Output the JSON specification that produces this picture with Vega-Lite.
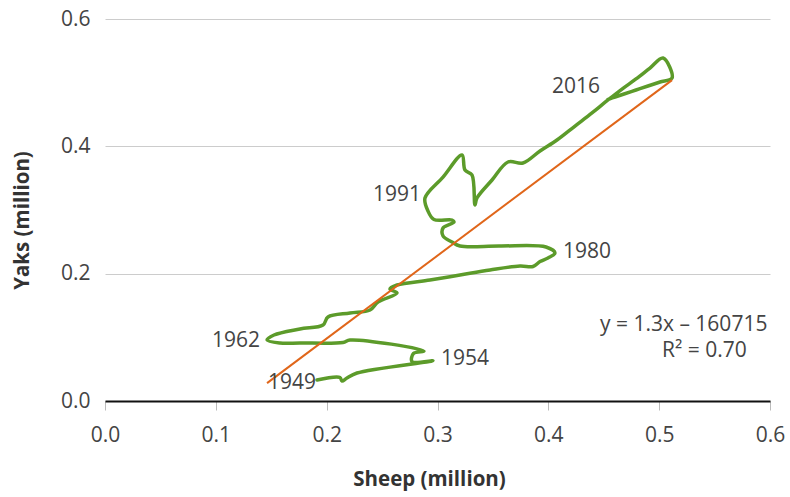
{
  "$schema": "https://vega.github.io/schema/vega-lite/v6.json",
  "width": 665,
  "height": 382,
  "autosize": {"type": "none"},
  "padding": {"left": 105, "top": 19, "right": 20, "bottom": 96},
  "background": "white",
  "config": {
    "view": {"stroke": null},
    "font": "Open Sans",
    "axis": {
      "labelFont": "Open Sans",
      "titleFont": "Open Sans",
      "labelColor": "#444444",
      "titleColor": "#333333",
      "labelFontSize": 21,
      "titleFontSize": 20.5,
      "titleFontWeight": "bold",
      "labelFlush": false
    }
  },
  "datasets": {
    "series": [
      {"year": 1949, "sheep": 0.1913, "yaks": 0.0330},
      {"year": 1950, "sheep": 0.2120, "yaks": 0.0369},
      {"year": 1951, "sheep": 0.2138, "yaks": 0.0314},
      {"year": 1952, "sheep": 0.2183, "yaks": 0.0361},
      {"year": 1953, "sheep": 0.2274, "yaks": 0.0440},
      {"year": 1954, "sheep": 0.2959, "yaks": 0.0633},
      {"year": 1955, "sheep": 0.2770, "yaks": 0.0620},
      {"year": 1956, "sheep": 0.2783, "yaks": 0.0746},
      {"year": 1957, "sheep": 0.2878, "yaks": 0.0785},
      {"year": 1958, "sheep": 0.2211, "yaks": 0.0958},
      {"year": 1959, "sheep": 0.2147, "yaks": 0.0919},
      {"year": 1960, "sheep": 0.1759, "yaks": 0.0911},
      {"year": 1961, "sheep": 0.1579, "yaks": 0.0911},
      {"year": 1962, "sheep": 0.1462, "yaks": 0.0958},
      {"year": 1963, "sheep": 0.1525, "yaks": 0.1037},
      {"year": 1964, "sheep": 0.1759, "yaks": 0.1131},
      {"year": 1965, "sheep": 0.1967, "yaks": 0.1194},
      {"year": 1966, "sheep": 0.2012, "yaks": 0.1319},
      {"year": 1967, "sheep": 0.2211, "yaks": 0.1382},
      {"year": 1968, "sheep": 0.2391, "yaks": 0.1429},
      {"year": 1969, "sheep": 0.2463, "yaks": 0.1555},
      {"year": 1970, "sheep": 0.2635, "yaks": 0.1696},
      {"year": 1971, "sheep": 0.2571, "yaks": 0.1759},
      {"year": 1972, "sheep": 0.2635, "yaks": 0.1822},
      {"year": 1973, "sheep": 0.2932, "yaks": 0.1900},
      {"year": 1974, "sheep": 0.3203, "yaks": 0.1979},
      {"year": 1975, "sheep": 0.3474, "yaks": 0.2058},
      {"year": 1976, "sheep": 0.3744, "yaks": 0.2120},
      {"year": 1977, "sheep": 0.3862, "yaks": 0.2113},
      {"year": 1978, "sheep": 0.3925, "yaks": 0.2191},
      {"year": 1979, "sheep": 0.3997, "yaks": 0.2246},
      {"year": 1980, "sheep": 0.4060, "yaks": 0.2325},
      {"year": 1981, "sheep": 0.3979, "yaks": 0.2419},
      {"year": 1982, "sheep": 0.3564, "yaks": 0.2435},
      {"year": 1983, "sheep": 0.3203, "yaks": 0.2435},
      {"year": 1984, "sheep": 0.3131, "yaks": 0.2497},
      {"year": 1985, "sheep": 0.3050, "yaks": 0.2592},
      {"year": 1986, "sheep": 0.3050, "yaks": 0.2717},
      {"year": 1987, "sheep": 0.3149, "yaks": 0.2811},
      {"year": 1988, "sheep": 0.3131, "yaks": 0.2843},
      {"year": 1989, "sheep": 0.2968, "yaks": 0.2851},
      {"year": 1990, "sheep": 0.2914, "yaks": 0.2984},
      {"year": 1991, "sheep": 0.2887, "yaks": 0.3188},
      {"year": 1992, "sheep": 0.3050, "yaks": 0.3518},
      {"year": 1993, "sheep": 0.3221, "yaks": 0.3864},
      {"year": 1994, "sheep": 0.3248, "yaks": 0.3628},
      {"year": 1995, "sheep": 0.3311, "yaks": 0.3550},
      {"year": 1996, "sheep": 0.3338, "yaks": 0.3079},
      {"year": 1997, "sheep": 0.3356, "yaks": 0.3188},
      {"year": 1998, "sheep": 0.3492, "yaks": 0.3471},
      {"year": 1999, "sheep": 0.3636, "yaks": 0.3754},
      {"year": 2000, "sheep": 0.3771, "yaks": 0.3738},
      {"year": 2001, "sheep": 0.3925, "yaks": 0.3927},
      {"year": 2002, "sheep": 0.4078, "yaks": 0.4099},
      {"year": 2003, "sheep": 0.4241, "yaks": 0.4319},
      {"year": 2004, "sheep": 0.4394, "yaks": 0.4524},
      {"year": 2005, "sheep": 0.4538, "yaks": 0.4728},
      {"year": 2006, "sheep": 0.4665, "yaks": 0.4900},
      {"year": 2007, "sheep": 0.4791, "yaks": 0.5058},
      {"year": 2008, "sheep": 0.4917, "yaks": 0.5230},
      {"year": 2009, "sheep": 0.5035, "yaks": 0.5387},
      {"year": 2010, "sheep": 0.5116, "yaks": 0.5073},
      {"year": 2011, "sheep": 0.5008, "yaks": 0.5010},
      {"year": 2012, "sheep": 0.4899, "yaks": 0.4948},
      {"year": 2013, "sheep": 0.4791, "yaks": 0.4885},
      {"year": 2014, "sheep": 0.4683, "yaks": 0.4822},
      {"year": 2015, "sheep": 0.4602, "yaks": 0.4775},
      {"year": 2016, "sheep": 0.4538, "yaks": 0.4736}
    ],
    "trend": [
      {"sheep": 0.1462, "yaks": 0.0280},
      {"sheep": 0.5116, "yaks": 0.5040}
    ],
    "labelsRight": [
      {"text": "1949", "sheep": 0.1904, "yaks": 0.0283},
      {"text": "1962", "sheep": 0.1399, "yaks": 0.0942},
      {"text": "1991", "sheep": 0.2851, "yaks": 0.3236},
      {"text": "2016", "sheep": 0.4466, "yaks": 0.4932}
    ],
    "labelsLeft": [
      {"text": "1954", "sheep": 0.3032, "yaks": 0.0660},
      {"text": "1980", "sheep": 0.4132, "yaks": 0.2340},
      {"text": "y = 1.3x – 160715", "sheep": 0.4466, "yaks": 0.1194},
      {"text": "R² = 0.70", "sheep": 0.5026, "yaks": 0.0785}
    ]
  },
  "encoding": {
    "x": {
      "field": "sheep", "type": "quantitative",
      "scale": {"domain": [0, 0.6], "nice": false, "zero": true},
      "axis": {
        "title": "Sheep (million)",
        "values": [0, 0.1, 0.2, 0.3, 0.4, 0.5, 0.6],
        "format": ".1f",
        "grid": false,
        "domainColor": "#111111",
        "domainWidth": 2,
        "tickColor": "#bbbbbb",
        "tickSize": 9,
        "labelPadding": 14,
        "titlePadding": 24,
        "titleX": 324
      }
    },
    "y": {
      "field": "yaks", "type": "quantitative",
      "scale": {"domain": [0, 0.6], "nice": false},
      "axis": {
        "title": "Yaks (million)",
        "values": [0, 0.2, 0.4, 0.6],
        "format": ".1f",
        "grid": true,
        "gridColor": "#cccccc",
        "domain": false,
        "ticks": false,
        "labelPadding": 15,
        "titlePadding": 28,
        "titleY": 201
      }
    }
  },
  "layer": [
    {
      "data": {"name": "series"},
      "mark": {"type": "line", "color": "#5c9b2a", "strokeWidth": 3.5, "interpolate": "catmull-rom", "strokeJoin": "round", "strokeCap": "round"},
      "encoding": {"order": {"field": "year", "type": "quantitative"}}
    },
    {
      "data": {"name": "trend"},
      "mark": {"type": "line", "color": "#e0661a", "strokeWidth": 2},
      "encoding": {}
    },
    {
      "data": {"name": "labelsRight"},
      "mark": {"type": "text", "align": "right", "baseline": "middle", "fontSize": 21, "color": "#444444", "font": "Open Sans"},
      "encoding": {"text": {"field": "text"}}
    },
    {
      "data": {"name": "labelsLeft"},
      "mark": {"type": "text", "align": "left", "baseline": "middle", "fontSize": 21, "color": "#444444", "font": "Open Sans"},
      "encoding": {"text": {"field": "text"}}
    }
  ]
}
